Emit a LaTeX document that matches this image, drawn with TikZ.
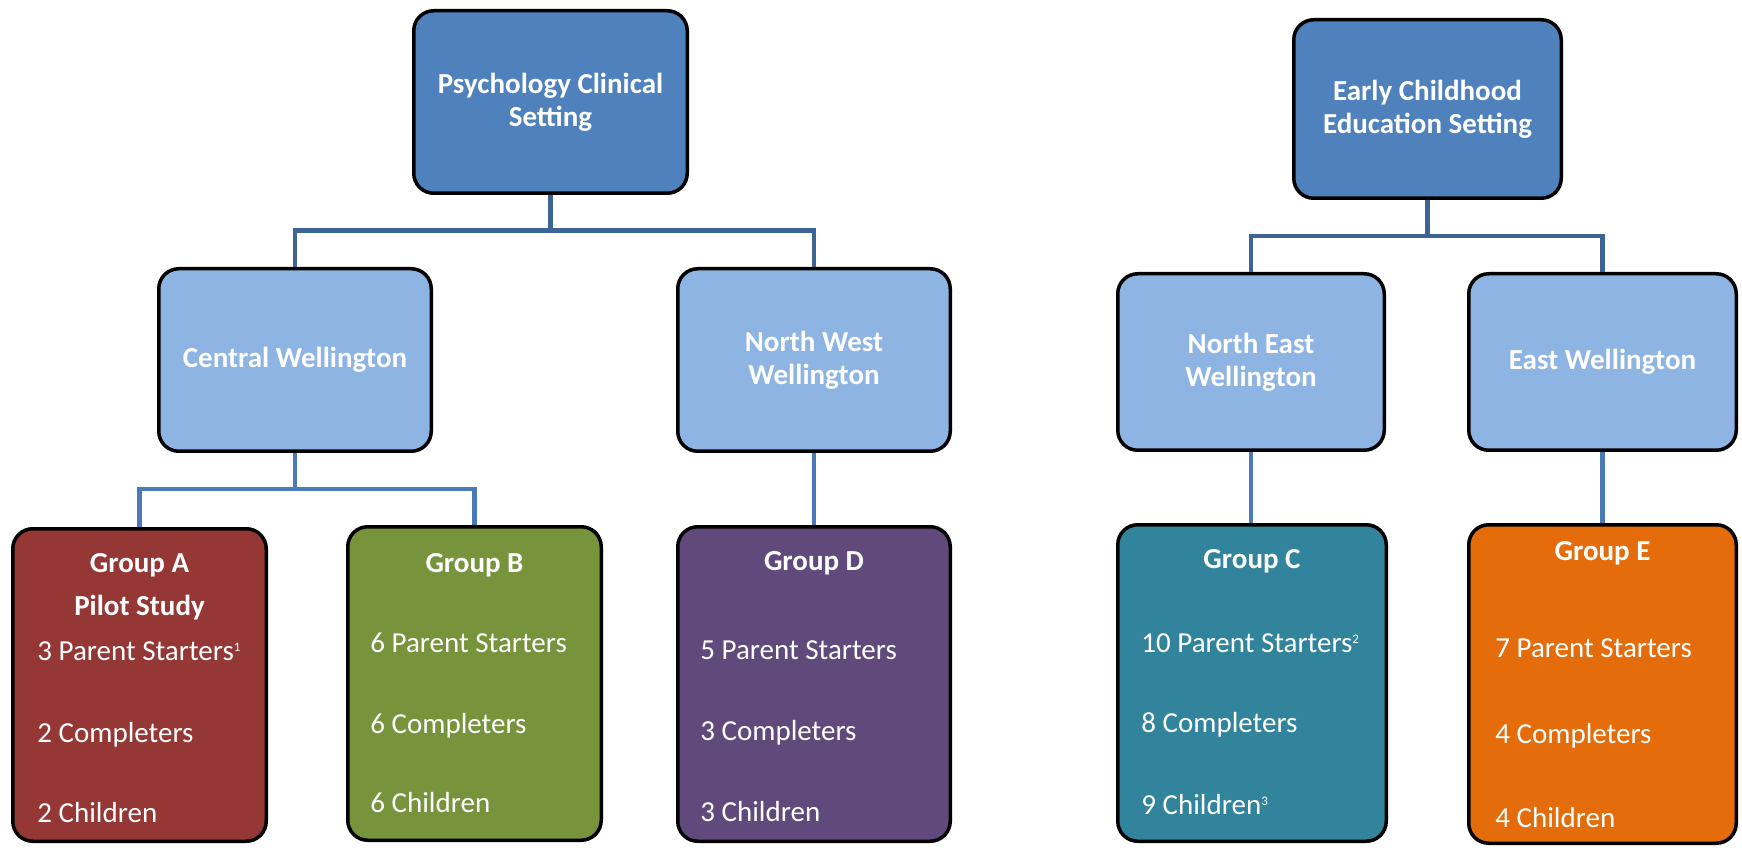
\documentclass[tikz,border=0pt]{standalone}
\usepackage{fontspec}
\setmainfont{Carlito}
\definecolor{topblue}{HTML}{4F81BD}
\definecolor{midblue}{HTML}{8EB4E3}
\definecolor{connA}{HTML}{3E6496}
\definecolor{connB}{HTML}{4A7BB8}
\definecolor{grpA}{HTML}{953735}
\definecolor{grpB}{HTML}{77933C}
\definecolor{grpD}{HTML}{604A7B}
\definecolor{grpC}{HTML}{31849B}
\definecolor{grpE}{HTML}{E46C0A}
\newcommand{\fnmark}[1]{\raisebox{4.3pt}{\fontsize{6.5}{7}\selectfont #1}}
\begin{document}
\begin{tikzpicture}[x=0.5pt,y=-0.5pt,
  box/.style={draw=black, line width=1.75pt, rounded corners=10pt, inner sep=0pt,
    text=white, align=center, font=\fontsize{14.5}{16.4}\selectfont\bfseries},
  conn/.style={line width=2.2pt, draw=connA},
  connlow/.style={line width=2.2pt, draw=connB},
  txt/.style={anchor=base west, inner sep=0pt, text=white, font=\fontsize{14.5}{16}\selectfont},
  ttl/.style={anchor=base, inner sep=0pt, text=white, font=\fontsize{14.5}{16}\selectfont\bfseries}]
\useasboundingbox (0,0) rectangle (1742,850);
\coordinate (j1) at (550.5,230.5);
\coordinate (j2) at (295,489);
\coordinate (j3) at (1427.5,236);
% boxes
\node[box, fill=topblue, minimum width=136.75pt, minimum height=91.25pt] (psy) at (550.5,102) {Psychology Clinical\\Setting};
\node[box, fill=midblue, minimum width=136.25pt, minimum height=91.25pt] (cw) at (295,360) {Central Wellington};
\node[box, fill=midblue, minimum width=136.25pt, minimum height=91.25pt] (nw) at (814,360) {North West\\Wellington};
\node[box, fill=grpA, minimum width=126.75pt, minimum height=156.25pt] (ga) at (139.5,685) {};
\node[box, fill=grpB, minimum width=126.75pt, minimum height=156.75pt] (gb) at (474.5,683.5) {};
\node[box, fill=grpD, minimum width=136.25pt, minimum height=157.25pt] (gd) at (814,684) {};
\node[box, fill=topblue, minimum width=133.75pt, minimum height=89.25pt] (ece) at (1427.5,109) {Early Childhood\\Education Setting};
\node[box, fill=midblue, minimum width=133.25pt, minimum height=88.25pt] (ne) at (1251,362) {North East\\Wellington};
\node[box, fill=midblue, minimum width=133.75pt, minimum height=88.25pt] (ew) at (1602.5,362) {East Wellington};
\node[box, fill=grpC, minimum width=134.25pt, minimum height=158.25pt] (gc) at (1252,683) {};
\node[box, fill=grpE, minimum width=133.75pt, minimum height=159.25pt] (ge) at (1602.5,684) {};
% connectors
\draw[conn] (psy.south) -- (j1) -| (cw.north);
\draw[conn] (j1) -| (nw.north);
\draw[connlow] (cw.south) -- (j2) -| (ga.north);
\draw[connlow] (j2) -| (gb.north);
\draw[connlow] (nw.south) -- (gd.north);
\draw[conn] (ece.south) -- (j3) -| (ne.north);
\draw[conn] (j3) -| (ew.north);
\draw[connlow] (ne.south) -- (ne.south |- gc.north);
\draw[connlow] (ew.south) -- (ew.south |- ge.north);
% Group A
\node[ttl] (ta) at (139.5,572) {Group A};
\node[ttl] (ta2) at (139.5,615) {Pilot Study};
\node[txt] (a1) at (37,660) {3 Parent Starters\fnmark{1}};
\node[txt] (a2) at (37,742) {2 Completers};
\node[txt] (a3) at (37,822) {2 Children};
% Group B
\node[ttl] (tb) at (474.5,572) {Group B};
\node[txt] (b1) at (370,652) {6 Parent Starters};
\node[txt] (b2) at (370,733) {6 Completers};
\node[txt] (b3) at (370,812) {6 Children};
% Group D
\node[ttl] (td) at (814,570) {Group D};
\node[txt] (d1) at (700,659) {5 Parent Starters};
\node[txt] (d2) at (700,740) {3 Completers};
\node[txt] (d3) at (700,821) {3 Children};
% Group C
\node[ttl] (tc) at (1252,568) {Group C};
\node[txt] (c1) at (1141,652) {10 Parent Starters\fnmark{2}};
\node[txt] (c2) at (1141,732) {8 Completers};
\node[txt] (c3) at (1141,814) {9 Children\fnmark{3}};
% Group E
\node[ttl] (te) at (1602.5,560) {Group E};
\node[txt] (e1) at (1495,657) {7 Parent Starters};
\node[txt] (e2) at (1495,743) {4 Completers};
\node[txt] (e3) at (1495,827) {4 Children};
\end{tikzpicture}
\end{document}
